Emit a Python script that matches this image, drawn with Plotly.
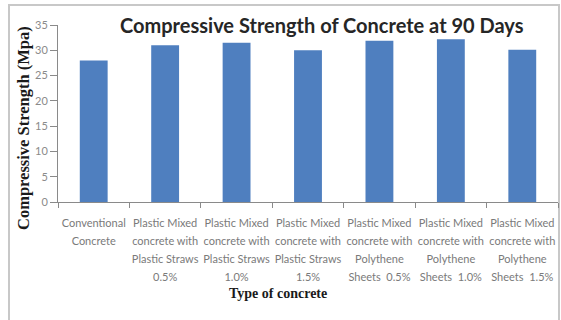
import plotly.graph_objects as go

categories = [
    "Conventional<br>Concrete",
    "Plastic Mixed<br>concrete with<br>Plastic Straws<br>0.5%",
    "Plastic Mixed<br>concrete with<br>Plastic Straws<br>1.0%",
    "Plastic Mixed<br>concrete with<br>Plastic Straws<br>1.5%",
    "Plastic Mixed<br>concrete with<br>Polythene<br>Sheets  0.5%",
    "Plastic Mixed<br>concrete with<br>Polythene<br>Sheets  1.0%",
    "Plastic Mixed<br>concrete with<br>Polythene<br>Sheets  1.5%",
]
strength_90d = [28.0, 31.0, 31.5, 30.0, 31.9, 32.2, 30.1]
y_ticks = [0, 5, 10, 15, 20, 25, 30, 35]

W, H = 561, 320
ML, MR, MT, MB = 58, 3, 25, 118
pw, ph = W - ML - MR, H - MT - MB

def px_x(px):
    return (px - ML) / pw

def px_y(py):
    return (H - MB - py) / ph

sans = "Lato, Open Sans, sans-serif"
serif = "Liberation Serif, Times New Roman, serif"
label_font = dict(family=sans, size=11, color="#7a7a7a")

# split category labels into lines; each line is drawn by its own overlaid axis
label_lines = [c.split("<br>") for c in categories]
n_lines = max(len(l) for l in label_lines)
line_gap = 18

fig = go.Figure(go.Bar(
    x=categories, y=strength_90d,
    marker=dict(color="#4f7fbf", line=dict(width=0)),
    width=0.39,
))

layout_axes = {}
for k in range(n_lines):
    texts = [l[k] if k < len(l) else "" for l in label_lines]
    ax = dict(
        tickmode="array", tickvals=categories, ticktext=texts,
        tickangle=0, tickfont=label_font,
        showgrid=False,
    )
    if k == 0:
        ax.update(showline=True, linecolor="#8a8a8a", linewidth=1,
                  ticks="outside", tickson="boundaries", ticklen=5, tickcolor="#8a8a8a",
                  ticklabelstandoff=11)
        layout_axes["xaxis"] = ax
    else:
        name = f"x{k + 1}"
        ax.update(overlaying="x", matches="x", anchor="y", side="bottom",
                  showline=False, ticks="outside", ticklen=5,
                  tickcolor="rgba(0,0,0,0)",
                  ticklabelstandoff=6 + line_gap * k)
        layout_axes[f"xaxis{k + 1}"] = ax
        fig.add_trace(go.Scatter(
            x=categories, y=strength_90d, xaxis=name, yaxis="y",
            mode="markers", marker=dict(opacity=0), hoverinfo="skip",
            showlegend=False,
        ))

fig.update_layout(
    width=W, height=H,
    margin=dict(l=ML, r=MR, t=MT, b=MB),
    paper_bgcolor="white", plot_bgcolor="white",
    showlegend=False,
    yaxis=dict(
        range=[0, 35], tickvals=y_ticks,
        showline=True, linecolor="#8a8a8a", linewidth=1,
        ticks="outside", ticklen=7, tickcolor="#8a8a8a",
        tickfont=dict(family=sans, size=11, color="#8a8a8a"),
        showgrid=False, zeroline=False,
    ),
    annotations=[
        dict(text="<b>Compressive Strength of Concrete at 90 Days</b>",
             xref="paper", yref="paper", x=px_x(322), y=px_y(25),
             xanchor="center", yanchor="middle", showarrow=False,
             font=dict(family=sans, size=20, color="#262626")),
        dict(text="<b>Compressive Strength (Mpa)</b>",
             xref="paper", yref="paper", x=px_x(23), y=px_y(128),
             xanchor="center", yanchor="middle", showarrow=False, textangle=-90,
             font=dict(family=serif, size=16.5, color="#1a1a1a")),
        dict(text="<b>Type of concrete</b>",
             xref="paper", yref="paper", x=px_x(278), y=px_y(293),
             xanchor="center", yanchor="middle", showarrow=False,
             font=dict(family=serif, size=14, color="#1a1a1a")),
    ],
    shapes=[
        dict(type="rect", xref="paper", yref="paper",
             x0=px_x(9), x1=px_x(559), y0=px_y(330), y1=px_y(5),
             line=dict(color="#c8c8c8", width=2), fillcolor="rgba(0,0,0,0)", layer="below"),
    ],
    **layout_axes,
)

fig.write_html("out.html")
